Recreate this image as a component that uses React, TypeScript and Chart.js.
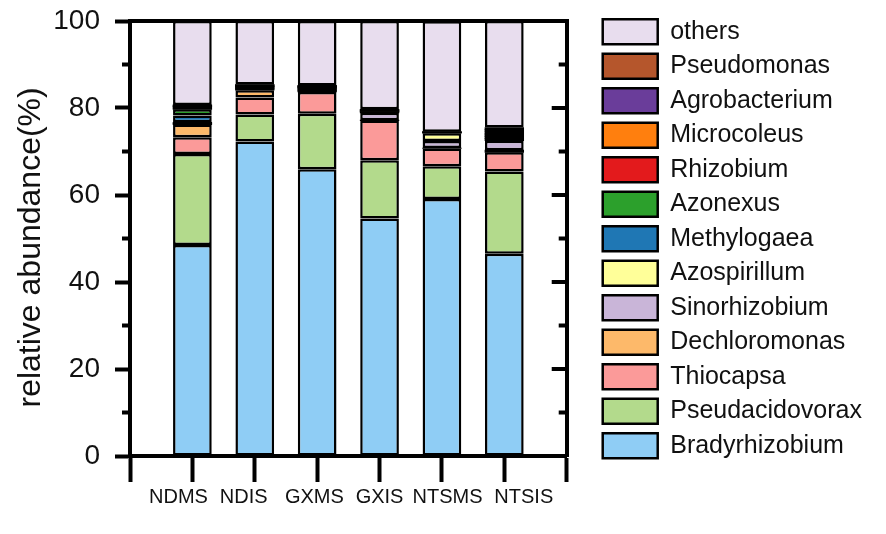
import { useEffect, useRef } from 'react';
import { Chart, registerables } from 'chart.js';

Chart.register(...registerables);

const categories = ['NDMS', 'NDIS', 'GXMS', 'GXIS', 'NTSMS', 'NTSIS'];
// the original's labels sit a little wider apart than its ticks; nudge, in spaces (- left, + right)
const labelNudge = [-5, -4, -1, 0, 2, 7];

// stacked from the bottom up
const bradyrhizobium = [48.5, 72.3, 65.9, 54.6, 59.1, 46.5];
const pseudacidovorax = [20.9, 6.2, 12.8, 13.4, 7.5, 18.9];
const thiocapsa = [3.9, 3.9, 5.0, 9.1, 4.1, 4.4];
const dechloromonas = [2.9, 1.7, 0.4, 0.1, 0.1, 0.5];
const sinorhizobium = [0.3, 0.3, 0.3, 1.7, 1.6, 2.2];
const azospirillum = [0.2, 0.2, 0.2, 0.2, 1.8, 0.5];
const methylogaea = [1.6, 0.2, 0.1, 0.1, 0.1, 0.4];
const azonexus = [1.4, 0.1, 0.1, 0.1, 0.05, 0.4];
const rhizobium = [0.3, 0.1, 0.1, 0.1, 0.05, 0.4];
const microcoleus = [0.3, 0.2, 0.1, 0.1, 0.05, 0.5];
const agrobacterium = [0.2, 0.1, 0.1, 0.1, 0.05, 0.4];
const pseudomonas = [0.2, 0.1, 0.1, 0.1, 0.05, 0.4];
const others = [19.3, 14.6, 14.8, 20.3, 25.4, 24.5];

const FONT = 'Arial, "Liberation Sans", sans-serif';
const BORDER = 2.5;
const TINY = 1.2; // segments thinner than their own outline show up as solid black

// empty slots at both ends so the axis runs one step past the first and last bar
const pad = (values: number[]) => [null, ...values, null];

const series: [string, number[], string][] = [
  ['Bradyrhizobium', bradyrhizobium, '#8fcdf5'],
  ['Pseudacidovorax', pseudacidovorax, '#b3da8c'],
  ['Thiocapsa', thiocapsa, '#fb9a99'],
  ['Dechloromonas', dechloromonas, '#fdb96a'],
  ['Sinorhizobium', sinorhizobium, '#c9b5d8'],
  ['Azospirillum', azospirillum, '#ffff99'],
  ['Methylogaea', methylogaea, '#1f77b4'],
  ['Azonexus', azonexus, '#2ca02c'],
  ['Rhizobium', rhizobium, '#e31a1c'],
  ['Microcoleus', microcoleus, '#ff7f0e'],
  ['Agrobacterium', agrobacterium, '#6a3d9a'],
  ['Pseudomonas', pseudomonas, '#b5562c'],
  ['others', others, '#e8ddee'],
];

const isTiny = (c: any) => typeof c.raw === 'number' && c.raw < TINY;

// minor ticks on the left, inward ticks on the right frame line
const frameTicks = {
  id: 'frameTicks',
  afterDraw(chart: Chart) {
    const { ctx, chartArea } = chart;
    const y = chart.scales.y;
    const values = y.ticks.map(t => t.value);
    ctx.save();
    ctx.strokeStyle = '#000';
    ctx.lineWidth = 4;
    ctx.beginPath();
    for (let i = 0; i < values.length; i++) {
      const major = y.getPixelForValue(values[i]);
      ctx.moveTo(chartArea.right - 15, major);
      ctx.lineTo(chartArea.right, major);
      if (i < values.length - 1) {
        const minor = y.getPixelForValue((values[i] + values[i + 1]) / 2);
        ctx.moveTo(chartArea.left - 8, minor);
        ctx.lineTo(chartArea.left, minor);
        ctx.moveTo(chartArea.right - 8, minor);
        ctx.lineTo(chartArea.right, minor);
      }
    }
    ctx.stroke();
    ctx.restore();
  },
};

export default function App() {
  const canvasRef = useRef<HTMLCanvasElement>(null);
  const chartRef = useRef<Chart | null>(null);

  useEffect(() => {
    if (!canvasRef.current) return;
    if (chartRef.current) chartRef.current.destroy();

    chartRef.current = new Chart(canvasRef.current, {
      type: 'bar',
      data: {
        labels: ['', ...categories, ''],
        datasets: series.map(([label, values, color]) => ({
          label,
          data: pad(values),
          backgroundColor: (c: any) => (isTiny(c) ? '#000' : color),
          borderColor: '#000',
          borderWidth: (c: any) => (isTiny(c) ? 0 : BORDER),
          inflateAmount: (c: any) => (isTiny(c) ? 0.35 : 0),
          borderSkipped: false,
          barPercentage: 0.62,
          categoryPercentage: 1,
        })),
      },
      options: {
        animation: false,
        responsive: true,
        maintainAspectRatio: false,
        layout: { padding: { top: 9.7, left: 12, bottom: 25, right: 14 } },
        plugins: {
          tooltip: { enabled: false },
          legend: {
            position: 'right',
            align: 'start',
            reverse: true,
            maxWidth: 360,
            labels: {
              boxWidth: 55,
              boxHeight: 25,
              padding: 9.5,
              color: '#111',
              font: { family: FONT, size: 25 },
            },
          },
        },
        scales: {
          x: {
            stacked: true,
            offset: false,
            afterFit: (s: any) => { s.height = 53; },
            grid: {
              offset: false,
              drawOnChartArea: false,
              tickLength: 26,
              tickWidth: 4,
              tickColor: '#000',
            },
            border: { color: '#000', width: 4 },
            ticks: {
              autoSkip: false,
              maxRotation: 0,
              padding: 3,
              color: '#111',
              font: { family: FONT, size: 20 },
              callback: function (value: any) {
                const label = (this as any).getLabelForValue(value) as string;
                const n = labelNudge[categories.indexOf(label)] ?? 0;
                const sp = ' '.repeat(Math.abs(n));
                return n < 0 ? label + sp : sp + label;
              },
            },
          },
          xTop: {
            position: 'top',
            offset: false,
            afterFit: (s: any) => { s.height = 11.3; },
            grid: { drawOnChartArea: false, tickLength: 11.3, tickColor: 'transparent' },
            border: { color: '#000', width: 4 },
            ticks: { display: false },
          },
          y: {
            stacked: true,
            min: 0,
            max: 100,
            afterFit: (s: any) => {
              s.width = 118;
              s.paddingTop = 0;
              s.paddingBottom = 0;
            },
            ticks: {
              stepSize: 20,
              padding: 15,
              color: '#111',
              font: { family: FONT, size: 28 },
            },
            grid: {
              drawOnChartArea: false,
              tickLength: 15,
              tickWidth: 4,
              tickColor: '#000',
            },
            border: { color: '#000', width: 4 },
            title: {
              display: true,
              text: 'relative abundance(%)  ',
              color: '#111',
              padding: { top: 0, bottom: 0 },
              font: { family: FONT, size: 32 },
            },
          },
          yRight: {
            position: 'right',
            min: 0,
            max: 100,
            afterFit: (s: any) => {
              s.width = 26.5;
              s.paddingTop = 0;
              s.paddingBottom = 0;
            },
            grid: { drawOnChartArea: false, tickLength: 26.5, tickColor: 'transparent' },
            border: { color: '#000', width: 4 },
            ticks: { display: false },
          },
        },
      },
      plugins: [frameTicks],
    });

    return () => {
      if (chartRef.current) {
        chartRef.current.destroy();
        chartRef.current = null;
      }
    };
  }, []);

  return (
    <div style={{ position: 'absolute', left: 0, top: 0, width: 886, height: 534, background: '#fff' }}>
      <canvas ref={canvasRef} />
    </div>
  );
}
